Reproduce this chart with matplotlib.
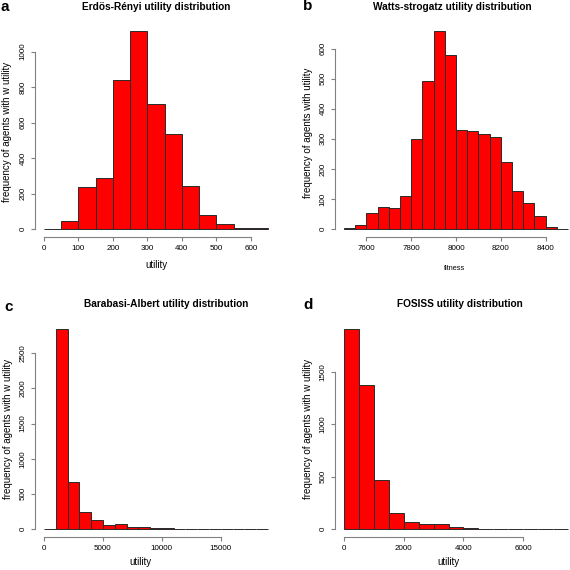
import numpy as np
import matplotlib
matplotlib.use("Agg")
import matplotlib.pyplot as plt

plt.rcParams['font.family'] = ['Liberation Sans', 'DejaVu Sans']

# ── data: bin edges and counts ────────────────────────────────────────────────
er_edges = np.arange(0, 651, 50)
er_counts = [2, 45, 236, 290, 841, 1116, 706, 537, 245, 77, 26, 7, 4]

ws_edges = np.arange(7500, 8501, 50)
ws_counts = [2, 15, 53, 73, 71, 109, 300, 493, 659, 579, 328, 326, 317, 307,
             224, 128, 88, 45, 7, 1]

ba_edges = np.arange(0, 19001, 1000)
ba_counts = [0, 2845, 664, 240, 125, 57, 65, 24, 24, 19, 10, 5, 2, 3, 1, 2, 2,
             0, 1]

fo_edges = np.arange(0, 7501, 500)
fo_counts = [1907, 1372, 465, 157, 70, 51, 51, 22, 6, 2, 1, 1, 1, 1, 1]

W = H = 570


def px_axes(fig, left, right, top, bottom):
    return fig.add_axes([left / W, 1 - bottom / H, (right - left) / W, (bottom - top) / H])


def hist_panel(ax, edges, counts, xticks, yticks):
    edges = np.asarray(edges)
    ax.bar(edges[:-1], counts, width=np.diff(edges), align='edge',
           color='#ff0000', edgecolor='#2a2a2a', linewidth=0.7)
    lo, hi = edges[0], edges[-1]
    ax.set_xlim(lo - 0.04 * (hi - lo), hi + 0.04 * (hi - lo))
    top = max(counts)
    ax.set_ylim(-0.04 * top, 1.04 * top)
    for s in ('top', 'right'):
        ax.spines[s].set_visible(False)
    for s in ('left', 'bottom'):
        ax.spines[s].set_color('#808080')
        ax.spines[s].set_linewidth(0.8)
    ax.spines['bottom'].set_bounds(xticks[0], xticks[-1])
    ax.spines['left'].set_bounds(yticks[0], yticks[-1])
    ax.set_xticks(xticks)
    ax.set_yticks(yticks)
    ax.tick_params(length=2.9, width=0.8, color='#808080', labelsize=5.8,
                   pad=3.2, labelcolor='black')
    ax.tick_params(axis='y', labelrotation=90)
    for lab in ax.get_yticklabels():
        lab.set_va('center')


fig = plt.figure(figsize=(5.7, 5.7), dpi=100)

ax_a = px_axes(fig, 35, 277, 23, 237)
hist_panel(ax_a, er_edges, er_counts, np.arange(0, 601, 100), np.arange(0, 1001, 200))
ax_b = px_axes(fig, 335, 577, 23, 237)
hist_panel(ax_b, ws_edges, ws_counts, np.arange(7600, 8401, 200), np.arange(0, 601, 100))
ax_c = px_axes(fig, 35, 277, 321, 537)
hist_panel(ax_c, ba_edges, ba_counts, np.arange(0, 15001, 5000), np.arange(0, 2501, 500))
ax_d = px_axes(fig, 335, 577, 321, 537)
hist_panel(ax_d, fo_edges, fo_counts, np.arange(0, 6001, 2000), np.arange(0, 1501, 500))


def ftext(x, y, s, **kw):
    fig.text(x / W, 1 - y / H, s, ha='center', va='center', **kw)


# titles
ftext(156, 7, 'Erdös-Rényi utility distribution', fontsize=7.3, fontweight='bold')
ftext(452, 7, 'Watts-strogatz utility distribution', fontsize=7.3, fontweight='bold')
ftext(166, 304, 'Barabasi-Albert utility distribution', fontsize=7.3, fontweight='bold')
ftext(460, 304, 'FOSISS utility distribution', fontsize=7.3, fontweight='bold')

# panel letters
ftext(5, 7, 'a', fontsize=11, fontweight='bold')
ftext(308, 6, 'b', fontsize=11, fontweight='bold')
ftext(9, 307, 'c', fontsize=11, fontweight='bold')
ftext(308, 305, 'd', fontsize=11, fontweight='bold')

# axis labels
ftext(7, 132, 'frequency of agents with w utility', fontsize=7, rotation=90)
ftext(308, 133, 'frequency of agents with utility', fontsize=7, rotation=90)
ftext(8, 429, 'frequency of agents with w utility', fontsize=7, rotation=90)
ftext(308, 429, 'frequency of agents with w utility', fontsize=7, rotation=90)

ftext(156, 265, 'utility', fontsize=7)
ftext(455, 268, 'fitness', fontsize=5.3)
ftext(140, 562, 'utility', fontsize=7)
ftext(448, 562, 'utility', fontsize=7)

fig.savefig('out.png', dpi=100)
